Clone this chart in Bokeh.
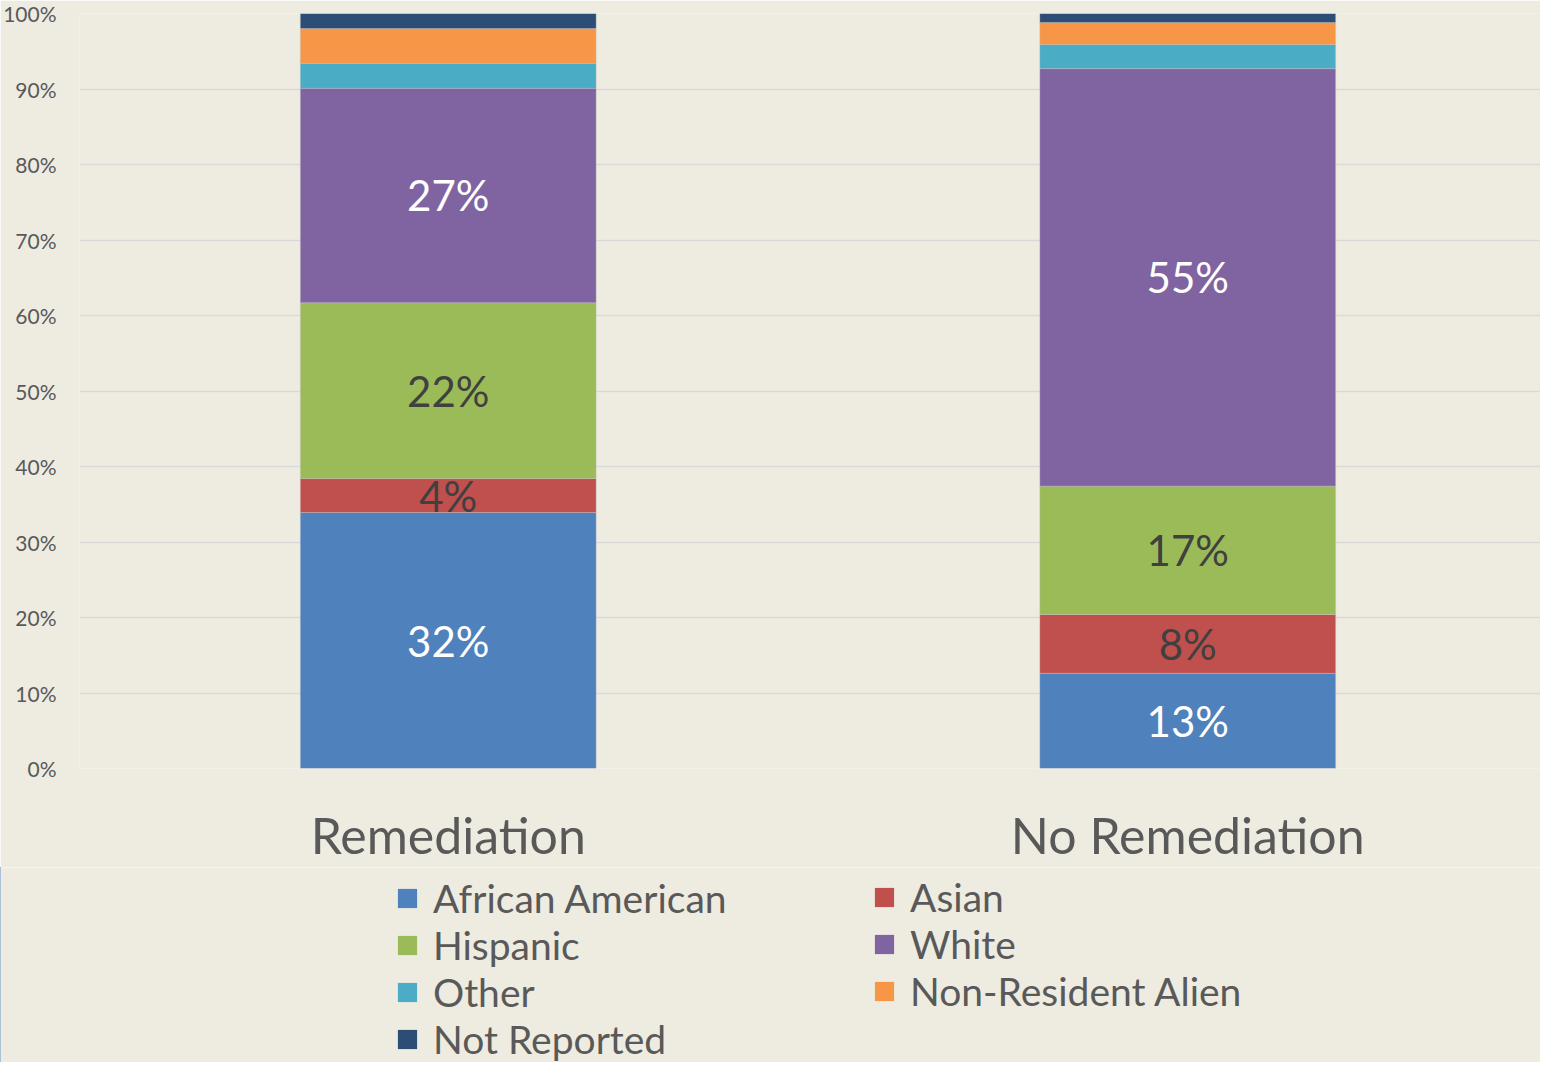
from bokeh.plotting import figure
from bokeh.layouts import column
from bokeh.models import (Range1d, FixedTicker, Legend, LegendItem, PrintfTickFormatter,
                          ColumnDataSource, LabelSet)
from bokeh.core.properties import value
from bokeh.embed import file_html
from bokeh.resources import INLINE

# ---------------- data ----------------
categories = ["Remediation", "No Remediation"]
groups = ["African American", "Asian", "Hispanic", "White", "Other",
          "Non-Resident Alien", "Not Reported"]
african_american = [33.9, 12.6]
asian = [4.5, 7.8]
hispanic = [23.3, 17.0]
white = [28.4, 55.3]
other = [3.3, 3.2]
non_resident_alien = [4.6, 2.9]
not_reported = [2.0, 1.2]
# printed segment labels
aa_labels = ["32%", "13%"]
asian_labels = ["4%", "8%"]
hispanic_labels = ["22%", "17%"]
white_labels = ["27%", "55%"]
y_ticks = [0, 10, 20, 30, 40, 50, 60, 70, 80, 90, 100]

colors = ["#4F81BD", "#C0504D", "#9BBB59", "#8064A2", "#4BACC6", "#F79646", "#2C4D75"]
BG = "#EEEBE1"
FONT = "Lato"
TXT = "#595959"

series = [african_american, asian, hispanic, white, other, non_resident_alien, not_reported]
xs = list(range(len(categories)))
data = {"x": xs}
for g, s in zip(groups, series):
    data[g] = s
source = ColumnDataSource(data)

p = figure(width=1540, height=867, output_backend="svg", toolbar_location=None,
           x_range=Range1d(-0.4986, 1.4770), y_range=Range1d(0, 100),
           min_border_left=71, min_border_right=0, min_border_top=13, min_border_bottom=99)
p.background_fill_color = BG
p.border_fill_color = BG
p.outline_line_color = None

renderers = p.vbar_stack(groups, x="x", width=0.4, color=colors, source=source,
                         line_color="#C8C8C8", line_width=0.6, line_alpha=0.6)

# segment labels
lx, ly, lt, lc = [], [], [], []
base = [0.0] * len(categories)
label_sets = [aa_labels, asian_labels, hispanic_labels, white_labels]
label_colors = ["white", "#404040", "#404040", "white"]
for si, s in enumerate(series):
    for i, v in enumerate(s):
        if si < len(label_sets):
            lx.append(xs[i])
            ly.append(base[i] + v / 2)
            lt.append(label_sets[si][i])
            lc.append(label_colors[si])
        base[i] += v
lsrc = ColumnDataSource(dict(x=lx, y=ly, t=lt, c=lc))
p.add_layout(LabelSet(x="x", y="y", text="t", source=lsrc, text_color="c",
                      text_font=value(FONT), text_font_size="42px", text_align="center",
                      text_baseline="middle"))

# axes
p.yaxis.ticker = FixedTicker(ticks=y_ticks)
p.yaxis.formatter = PrintfTickFormatter(format="%d%%")
p.yaxis.axis_line_color = None
p.yaxis.major_tick_line_color = None
p.yaxis.minor_tick_line_color = None
p.yaxis.major_label_text_font = FONT
p.yaxis.major_label_text_font_size = "21px"
p.yaxis.major_label_text_color = TXT
p.yaxis.major_label_standoff = 17

p.xaxis.ticker = FixedTicker(ticks=xs)
p.xaxis.major_label_overrides = {i: c for i, c in zip(xs, categories)}
p.xaxis.axis_line_color = None
p.xaxis.major_tick_line_color = None
p.xaxis.minor_tick_line_color = None
p.xaxis.major_label_text_font = FONT
p.xaxis.major_label_text_font_size = "50px"
p.xaxis.major_label_text_color = TXT
p.xaxis.major_label_standoff = 30

p.xgrid.grid_line_color = None
p.ygrid.grid_line_color = "#D9D9D9"
p.ygrid.grid_line_width = 1.5

# legend panel (separate strip below the chart)
p2 = figure(width=1540, height=195, output_backend="svg", toolbar_location=None,
            x_range=Range1d(10, 11), y_range=Range1d(0, 1),
            x_axis_type=None, y_axis_type=None, min_border=0,
            min_border_left=0, min_border_right=0, min_border_top=0, min_border_bottom=0)
p2.frame_align = False
p2.background_fill_color = BG
p2.border_fill_color = BG
p2.outline_line_color = None
p2.grid.grid_line_color = None
leg_renderers = p2.vbar_stack(groups, x="x", width=0.4, color=colors, source=source,
                              line_color=None)

col1 = [0, 2, 4, 6]
col2 = [1, 3, 5]
for cols, loc in ((col1, (395, 0)), (col2, (872, 48))):
    items = [LegendItem(label=groups[i], renderers=[leg_renderers[i]]) for i in cols]
    leg = Legend(items=items, location=loc, orientation="vertical",
                 background_fill_alpha=0, border_line_color=None, padding=0, margin=0,
                 spacing=1, glyph_width=24, glyph_height=24, label_standoff=14,
                 label_text_font=FONT, label_text_font_size="39px", label_text_color=TXT)
    p2.add_layout(leg, "center")

layout = column(p, p2, spacing=0)
open("out.html", "w").write(file_html(layout, INLINE))
